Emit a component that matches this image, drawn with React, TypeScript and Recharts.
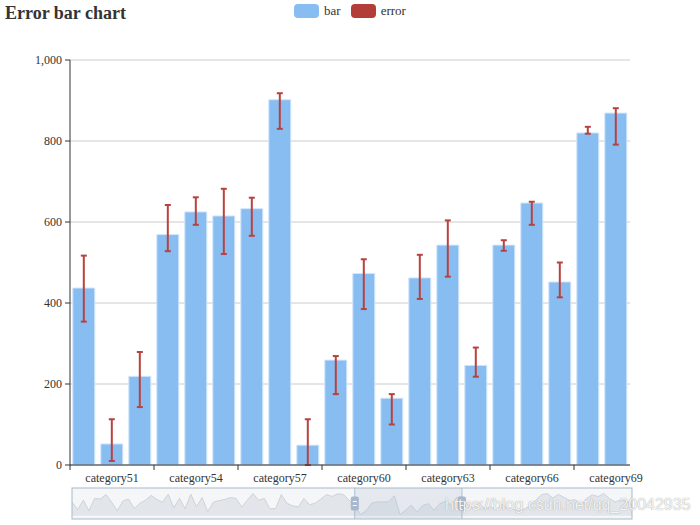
import React from 'react';
import {
  BarChart,
  Bar,
  XAxis,
  YAxis,
  CartesianGrid,
  ErrorBar,
  Legend,
  Brush,
  AreaChart,
  Area,
} from 'recharts';

// all 100 bar values (the slider shows the whole set, the chart shows 50..69)
const barValues = [
  612, 270, 699, 219, 781, 750, 954, 612, 219, 663,
  750, 321, 561, 699, 918, 730, 612, 969, 357, 781,
  321, 969, 408, 816, 189, 612, 680, 730, 816, 781,
  393, 700, 1000, 699, 781, 306, 321, 954, 561, 444,
  393, 781, 495, 561, 750, 954, 867, 990, 954, 699,
  437, 52, 219, 569, 625, 615, 633, 902, 49, 259,
  473, 165, 462, 543, 246, 543, 647, 452, 820, 869,
  480, 350, 600, 300, 420, 250, 500, 350, 300, 200,
  300, 450, 700, 950, 1000, 800, 960, 820, 690, 720,
  450, 780, 950, 860, 1000, 780, 620, 700, 650, 500,
];

// error range for the visible categories (category50 .. category69)
const errorStart = 50;
const errorLow = [354, 10, 143, 528, 593, 521, 566, 830, 0, 175, 385, 100, 410, 465, 218, 529, 593, 414, 818, 791];
const errorHigh = [517, 113, 279, 642, 661, 682, 660, 918, 113, 269, 508, 175, 519, 604, 290, 555, 650, 500, 835, 881];

const yTicks = [0, 200, 400, 600, 800, 1000];
const legendItems = [
  { name: 'bar', color: '#88bdf2' },
  { name: 'error', color: '#b33d39' },
];

const categories = barValues.map((_, i) => `category${i}`);

const tableData = categories.map((name, i) => {
  const j = i - errorStart;
  const has = j >= 0 && j < errorLow.length;
  return {
    name,
    value: barValues[i],
    err: has ? [barValues[i] - errorLow[j], errorHigh[j] - barValues[i]] : [0, 0],
  };
});

const FONT = '"Liberation Serif", "DejaVu Serif", serif';
const VISIBLE = errorLow.length;
const BAND = 560 / VISIBLE;

function CategoryTick(props: any) {
  const { x, y, payload, index } = props;
  if (index % 3 !== 1) return null;
  const tx = x - BAND * 1.5;
  return (
    <g>
      <line x1={tx} y1={y} x2={tx} y2={y + 5} stroke="#333" />
      <text x={x} y={y + 17} textAnchor="middle" fill="#333" fontSize={12} fontFamily={FONT}>
        {payload.value}
      </text>
    </g>
  );
}

function Handle(props: any) {
  const { x, y, width, height } = props;
  const cx = x + width / 2;
  const hy = y + height / 2 - 7;
  return (
    <g>
      <line x1={cx} y1={y} x2={cx} y2={y + height} stroke="#a7b7cc" strokeWidth={1} />
      <rect x={cx - 4} y={hy} width={8} height={14} rx={2} fill="#a7b7cc" />
      <line x1={cx - 2} y1={hy + 5} x2={cx + 2} y2={hy + 5} stroke="#fff" />
      <line x1={cx - 2} y1={hy + 9} x2={cx + 2} y2={hy + 9} stroke="#fff" />
    </g>
  );
}

function LegendBox() {
  return (
    <div
      style={{
        height: 20,
        display: 'flex',
        justifyContent: 'center',
        alignItems: 'flex-start',
        fontFamily: FONT,
        fontSize: 13,
        lineHeight: '14px',
        color: '#333',
      }}
    >
      {legendItems.map((it, i) => (
        <div key={it.name} style={{ display: 'flex', alignItems: 'center', marginLeft: i ? 10 : 0 }}>
          <span style={{ width: 25, height: 14, borderRadius: 4, background: it.color, display: 'inline-block' }} />
          <span style={{ marginLeft: 5 }}>{it.name}</span>
        </div>
      ))}
    </div>
  );
}

export default function App() {
  return (
    <div style={{ position: 'relative', width: 700, height: 525, fontFamily: FONT }}>
      <style>{'body{margin:0}'}</style>
      {/* overview sparkline shown behind the slider */}
      <div style={{ position: 'absolute', left: 72, top: 488, width: 560, height: 31, background: '#f5f6f8' }}>
        <AreaChart width={560} height={31} data={tableData} margin={{ top: 0, right: 0, bottom: 0, left: 0 }}>
          <XAxis dataKey="name" hide />
          <YAxis hide domain={[-150, 1250]} />
          <Area
            type="linear"
            dataKey="value"
            stroke="#cdd3dc"
            fill="#e2e5ea"
            fillOpacity={1}
            dot={false}
            activeDot={false}
            isAnimationActive={false}
          />
        </AreaChart>
      </div>
      <div
        style={{
          position: 'absolute',
          left: 5,
          top: 3,
          fontSize: 18,
          fontWeight: 'bold',
          color: '#333',
          zIndex: 2,
        }}
      >
        Error bar chart
      </div>
      <div style={{ position: 'relative', zIndex: 1 }}>
        <BarChart
          width={700}
          height={525}
          data={tableData}
          margin={{ top: 40, right: 70, bottom: 5, left: 0 }}
          barCategoryGap="10%"
        >
          <Legend verticalAlign="top" content={() => <LegendBox />} wrapperStyle={{ top: 4, left: 0, width: 700 }} />
          <CartesianGrid vertical={false} stroke="#ccc" />
          <XAxis
            dataKey="name"
            interval={0}
            height={24}
            tickSize={0}
            tickMargin={0}
            tickLine={false}
            axisLine={{ stroke: '#333' }}
            tick={<CategoryTick />}
          />
          <YAxis
            width={70}
            domain={[0, 1000]}
            ticks={yTicks}
            tickFormatter={(v: number) => v.toLocaleString('en-US')}
            tick={{ fill: '#333', fontSize: 12, fontFamily: FONT }}
            tickSize={5}
            tickMargin={3}
            tickLine={{ stroke: '#333' }}
            axisLine={{ stroke: '#333' }}
          />
          <Bar dataKey="value" name="bar" fill="#88bdf2" stroke="#d3e6fb" strokeWidth={1} isAnimationActive={false}>
            <ErrorBar dataKey="err" direction="y" width={3} strokeWidth={2} stroke="#b8423e" />
          </Bar>
          <Brush
            dataKey="name"
            x={72}
            y={488}
            width={560}
            height={31}
            startIndex={50}
            endIndex={69}
            travellerWidth={2}
            stroke="#a7b7cc"
            fill="none"
            traveller={(p: any) => <Handle {...p} />}
          />
        </BarChart>
      </div>
      <div
        style={{
          position: 'absolute',
          left: 445,
          top: 496,
          fontFamily: '"Liberation Sans", sans-serif',
          fontSize: 16,
          color: 'rgba(255,255,255,0.9)',
          textShadow: '0 0 1px #888',
          pointerEvents: 'none',
          zIndex: 3,
        }}
      >
        https://blog.csdn.net/qq_20042935
      </div>
    </div>
  );
}
